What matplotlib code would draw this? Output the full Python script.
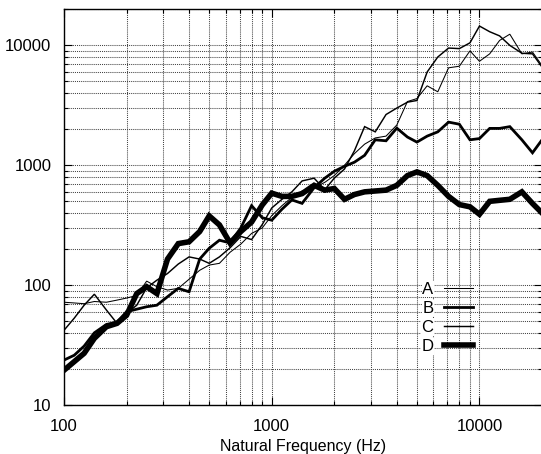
import matplotlib
matplotlib.use("Agg")
import matplotlib.pyplot as plt
from matplotlib.ticker import LogLocator, NullFormatter, FixedLocator, FixedFormatter

plt.rcParams['font.family'] = ['Liberation Sans', 'DejaVu Sans']

# Frequency points (Hz)
freq_hz = [100, 112, 125, 140, 160, 180, 200, 224, 250, 280, 315, 355, 400,
           450, 500, 560, 630, 710, 800, 900, 1000, 1120, 1250, 1400, 1600,
           1800, 2000, 2240, 2500, 2800, 3150, 3550, 4000, 4500, 5000, 5600,
           6300, 7100, 8000, 9000, 10000, 11200, 12500, 14000, 16000, 18000,
           20000]

series_a = [72, 71, 70, 73, 72, 75, 78, 82, 108, 97, 91, 94, 112,
            133, 147, 152, 188, 220, 270, 300, 380, 460, 540, 610, 650,
            720, 820, 1000, 1250, 1500, 1690, 1750, 2165, 3400, 3600, 4600,
            4100, 6500, 6700, 9000, 7370, 8500, 11000, 12400, 8500, 8800,
            6800]

series_b = [23.7, 26, 31, 40, 47, 49, 60, 63, 66, 68, 80, 94, 88,
            165, 203, 237, 225, 300, 460, 365, 348, 430, 514, 481, 650,
            780, 890, 980, 1060, 1210, 1630, 1600, 2040, 1720, 1560, 1750,
            1900, 2290, 2200, 1630, 1670, 2030, 2030, 2100, 1630, 1270,
            1630]

series_c = [42, 53, 68, 84, 62, 48, 58, 68, 95, 110, 125, 150, 172,
            165, 152, 172, 205, 255, 240, 320, 440, 520, 600, 740, 780,
            625, 780, 930, 1320, 2100, 1900, 2650, 3000, 3360, 3470, 6000,
            8000, 9500, 9400, 10500, 14500, 13000, 12000, 10000, 8600, 8500,
            6600]

series_d = [19.5, 23, 27, 36, 45, 48, 56, 85, 97, 85, 165, 222, 230,
            280, 378, 318, 225, 280, 336, 466, 585, 550, 550, 580, 680,
            620, 640, 520, 570, 600, 610, 620, 680, 820, 880, 820,
            680, 550, 470, 450, 390, 500, 510, 520, 600, 480,
            400]

series_labels = ['A', 'B', 'C', 'D']
series_widths = [0.75, 2.0, 1.05, 4.0]

x_ticks = [100, 1000, 10000]
x_tick_labels = ['100', '1000', '10000']
y_ticks = [10, 100, 1000, 10000]
y_tick_labels = ['10', '100', '1000', '10000']

fig = plt.figure(figsize=(5.41, 4.54), dpi=100)
ax = fig.add_axes([64 / 541, 49 / 454, 478 / 541, 395.7 / 454])

for vals, lab, lw in zip([series_a, series_b, series_c, series_d],
                         series_labels, series_widths):
    ax.plot(freq_hz, vals, color='black', lw=lw, label=lab,
            solid_joinstyle='miter', zorder=3)

ax.set_xscale('log')
ax.set_yscale('log')
ax.set_xlim(100, 20000)
ax.set_ylim(10, 20000)

ax.xaxis.set_major_locator(FixedLocator(x_ticks))
ax.xaxis.set_major_formatter(FixedFormatter(x_tick_labels))
ax.yaxis.set_major_locator(FixedLocator(y_ticks))
ax.yaxis.set_major_formatter(FixedFormatter(y_tick_labels))
ax.xaxis.set_minor_locator(LogLocator(base=10, subs=range(2, 10)))
ax.yaxis.set_minor_locator(LogLocator(base=10, subs=range(2, 10)))
ax.xaxis.set_minor_formatter(NullFormatter())
ax.yaxis.set_minor_formatter(NullFormatter())

grid_style = dict(color='#444444', linestyle=(0, (1, 1)), linewidth=0.75)
ax.grid(True, which='major', **grid_style)
ax.grid(True, which='minor', **grid_style)
ax.set_axisbelow(True)

ax.tick_params(which='both', direction='in', top=True, right=True,
               labelsize=12, width=0.8, colors='black')
ax.tick_params(axis='x', which='major', length=6, pad=10)
ax.tick_params(axis='y', which='major', length=6, pad=9)
ax.tick_params(which='minor', length=3)
for sp in ax.spines.values():
    sp.set_linewidth(1.0)

ax.set_xlabel('Natural Frequency (Hz)', fontsize=11.5, labelpad=4)

leg = ax.legend(loc='upper right', bbox_to_anchor=(0.855, 0.312),
                frameon=False, markerfirst=False, fontsize=12,
                handlelength=1.75, handletextpad=0.6, labelspacing=0.25,
                borderpad=0, borderaxespad=0)
for t in leg.get_texts():
    t.set_bbox(dict(facecolor='white', edgecolor='none', pad=0.5))
    t.set_horizontalalignment('right')

fig.savefig('out.png', dpi=100)
